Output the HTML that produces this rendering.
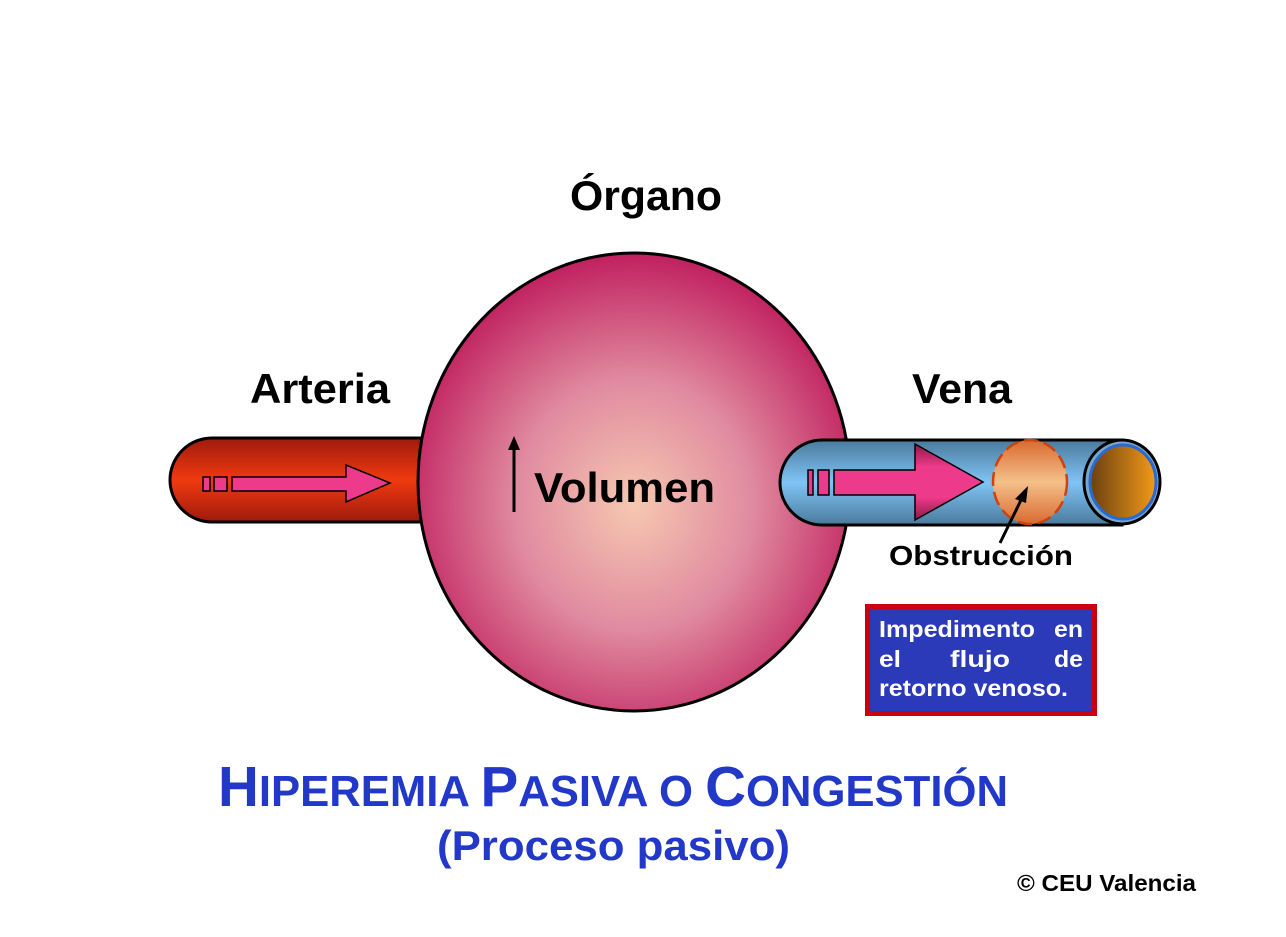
<!DOCTYPE html>
<html><head><meta charset="utf-8"><style>
html,body{margin:0;padding:0;background:#fff;}
svg{display:block;}
text{font-family:"Liberation Sans",Arial,Helvetica,sans-serif;font-weight:bold;}
</style></head><body>
<svg width="1286" height="937" viewBox="0 0 1286 937" xmlns="http://www.w3.org/2000/svg">
<defs>
<linearGradient id="art" x1="0" y1="0" x2="0" y2="1">
<stop offset="0" stop-color="#9e1a0c"/><stop offset="0.5" stop-color="#f03a10"/><stop offset="1" stop-color="#9e1a0c"/></linearGradient>
<linearGradient id="ven" x1="0" y1="0" x2="0" y2="1">
<stop offset="0" stop-color="#4a7a9c"/><stop offset="0.5" stop-color="#80c4f6"/><stop offset="1" stop-color="#4a7a9c"/></linearGradient>
<radialGradient id="org" cx="0.5" cy="0.55" r="0.55">
<stop offset="0" stop-color="#f6c8b0"/><stop offset="0.5" stop-color="#e08aa0"/><stop offset="1" stop-color="#c0205e"/></radialGradient>
<linearGradient id="obs" x1="0" y1="0" x2="0" y2="1">
<stop offset="0" stop-color="#d86a30"/><stop offset="0.5" stop-color="#f4c08a"/><stop offset="1" stop-color="#d86a30"/></linearGradient>
<linearGradient id="end" x1="0" y1="0" x2="1" y2="0">
<stop offset="0" stop-color="#6a4010"/><stop offset="1" stop-color="#f49a18"/></linearGradient>
<linearGradient id="head" x1="0" y1="0" x2="0" y2="1">
<stop offset="0" stop-color="#8a1a48"/><stop offset="0.3" stop-color="#ee3a8a"/><stop offset="0.7" stop-color="#ee3a8a"/><stop offset="1" stop-color="#8a1a48"/></linearGradient>
</defs>

<text x="570" y="210" font-size="42" textLength="152" lengthAdjust="spacingAndGlyphs">Órgano</text>
<text x="250" y="403" font-size="42" textLength="140" lengthAdjust="spacingAndGlyphs">Arteria</text>
<text x="912" y="403" font-size="42" textLength="100" lengthAdjust="spacingAndGlyphs">Vena</text>

<!-- artery -->
<path d="M212,438 H440 V522 H212 A42,42 0 0 1 212,438 Z" fill="url(#art)" stroke="#000" stroke-width="3"/>
<rect x="203" y="477" width="7" height="14" fill="#ee3a8a" stroke="#000" stroke-width="1.5"/>
<rect x="214" y="477" width="13" height="14" fill="#ee3a8a" stroke="#000" stroke-width="1.5"/>
<path d="M232,477 H346 V465 L390,483 L346,502 V491 H232 Z" fill="#ee3a8a" stroke="#000" stroke-width="1.5"/>

<!-- organ -->
<ellipse cx="634" cy="482" rx="216" ry="229" fill="url(#org)" stroke="#000" stroke-width="3"/>

<!-- vein -->
<path d="M822,440 H1122 V525 H822 A42,42.5 0 0 1 822,440 Z" fill="url(#ven)" stroke="#000" stroke-width="3"/>
<ellipse cx="1122" cy="482" rx="38" ry="42" fill="#7aa6cc" stroke="#000" stroke-width="3"/>
<ellipse cx="1123" cy="482" rx="33" ry="37" fill="url(#end)" stroke="#2a6ad0" stroke-width="3"/>
<rect x="808" y="470" width="5" height="25" fill="#ee3a8a" stroke="#000" stroke-width="1.5"/>
<rect x="818" y="470" width="11" height="25" fill="#ee3a8a" stroke="#000" stroke-width="1.5"/>
<path d="M834,470 H915 V444 L983,482 L915,520 V495 H834 Z" fill="url(#head)" stroke="#000" stroke-width="1.5"/>
<rect x="835" y="471" width="82" height="23" fill="#ee3a8a"/>
<ellipse cx="1030" cy="482" rx="37" ry="42" fill="url(#obs)" stroke="#d04010" stroke-width="2.5" stroke-dasharray="14,6"/>
<line x1="1000" y1="543" x2="1022" y2="498" stroke="#000" stroke-width="3"/>
<polygon points="1028,486 1015,499 1026,503" fill="#000"/>
<text x="889" y="565" font-size="28" textLength="184" lengthAdjust="spacingAndGlyphs">Obstrucción</text>

<!-- volume -->
<line x1="514" y1="512" x2="514" y2="448" stroke="#000" stroke-width="3"/>
<polygon points="514,436 508,450 520,450" fill="#000"/>
<text x="534" y="502" font-size="42" textLength="181" lengthAdjust="spacingAndGlyphs">Volumen</text>

<!-- box -->
<rect x="867.5" y="606.5" width="227" height="107" fill="#2a3ab8" stroke="#c80010" stroke-width="5"/>
<g fill="#fff" font-size="23">
<text x="879" y="637" textLength="156" lengthAdjust="spacingAndGlyphs">Impedimento</text><text x="1054" y="637" textLength="29" lengthAdjust="spacingAndGlyphs">en</text>
<text x="879" y="667" textLength="22" lengthAdjust="spacingAndGlyphs">el</text><text x="950" y="667" textLength="60" lengthAdjust="spacingAndGlyphs">flujo</text><text x="1054" y="667" textLength="29" lengthAdjust="spacingAndGlyphs">de</text>
<text x="879" y="696" textLength="189" lengthAdjust="spacingAndGlyphs">retorno venoso.</text>
</g>

<!-- title -->
<text x="218" y="806" fill="#2238c8" font-size="44" textLength="790" lengthAdjust="spacingAndGlyphs"><tspan font-size="57">H</tspan>IPEREMIA <tspan font-size="57">P</tspan>ASIVA O <tspan font-size="57">C</tspan>ONGESTIÓN</text>
<text x="437" y="860" fill="#2238c8" font-size="42" textLength="353" lengthAdjust="spacingAndGlyphs">(Proceso pasivo)</text>
<text x="1017" y="891" font-size="23" textLength="179" lengthAdjust="spacingAndGlyphs">© CEU Valencia</text>
</svg>
</body></html>
